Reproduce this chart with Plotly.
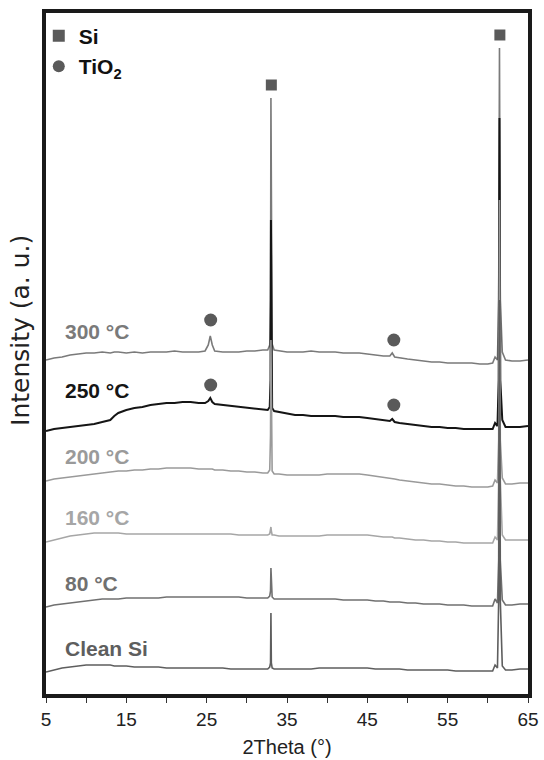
import plotly.graph_objects as go

# 2Theta grid (degrees)
two_theta = [5, 6, 7, 8, 9, 10, 11, 12, 13, 13.5, 14, 15, 16, 17, 18, 19, 20, 21, 22, 23,
             24, 24.8, 25.2, 25.45, 25.7, 26, 27, 28, 29, 30, 31, 32, 32.6, 32.85, 32.95, 33.0,
             33.05, 33.15, 33.4, 34, 35, 36, 37, 38, 39, 40, 41, 42, 43, 44, 45, 46, 47, 47.8,
             48.1, 48.4, 49, 50, 51, 52, 53, 54, 55, 56, 57, 58, 59, 60, 60.6, 60.9, 61.2,
             61.35, 61.45, 61.55, 61.8, 62.2, 63, 64, 65]

# Intensities (a. u., stacked as in the figure)
i_300 = [335, 337, 338, 340, 341, 342, 342, 343, 342, 343, 343, 342, 343, 342, 343, 343, 343, 344, 343, 343,
         343, 344, 350, 359, 350, 344, 343, 343, 343, 344, 344, 345, 345, 350, 395, 597,
         395, 351, 345, 344, 343, 343, 343, 344, 343, 343, 343, 342, 342, 342, 341, 340, 339, 339,
         342, 338, 337, 336, 335, 334, 333, 333, 332, 332, 332, 332, 331, 331, 332, 338, 335,
         395, 647, 395, 343, 335, 334, 334, 335]
i_250 = [264, 266, 267, 268, 269, 270, 271, 273, 275, 279, 282, 285, 287, 288, 290, 291, 292, 292, 293, 293,
         292, 292, 294, 297, 293, 291, 290, 289, 288, 287, 286, 285, 285, 288, 315, 475,
         315, 287, 284, 283, 281, 280, 280, 279, 279, 279, 279, 278, 278, 278, 277, 276, 275, 274,
         276, 273, 272, 271, 270, 269, 268, 268, 267, 267, 266, 266, 266, 266, 266, 272, 269,
         315, 577, 315, 275, 268, 268, 268, 269]
i_200 = [214, 216, 217, 218, 219, 220, 221, 222, 223, 223, 224, 224, 225, 225, 226, 226, 227, 227, 227, 227,
         226, 226, 226, 226, 226, 225, 225, 224, 224, 223, 223, 222, 222, 225, 260, 355,
         260, 224, 221, 221, 220, 220, 220, 220, 220, 221, 221, 221, 221, 221, 220, 219, 218, 217,
         217, 216, 215, 214, 213, 212, 211, 211, 210, 209, 209, 208, 208, 208, 209, 215, 212,
         255, 495, 255, 217, 211, 211, 212, 212]
i_160 = [153, 155, 157, 159, 160, 161, 162, 162, 162, 162, 162, 161, 161, 161, 161, 161, 161, 161, 161, 161,
         161, 161, 161, 161, 161, 161, 161, 161, 160, 160, 160, 160, 160, 161, 164, 168,
         164, 160, 160, 159, 159, 159, 159, 159, 159, 160, 160, 160, 160, 160, 160, 159, 158, 158,
         158, 157, 157, 156, 155, 155, 154, 154, 153, 153, 152, 152, 152, 152, 152, 158, 155,
         215, 365, 215, 160, 155, 155, 155, 155]
i_80 = [88, 90, 91, 92, 93, 94, 95, 96, 96, 96, 96, 97, 97, 97, 97, 97, 98, 98, 98, 98,
        98, 98, 98, 98, 98, 98, 98, 98, 98, 97, 97, 97, 97, 99, 104, 127,
        104, 98, 96, 96, 96, 96, 96, 96, 96, 96, 96, 95, 95, 95, 95, 94, 94, 93,
        93, 93, 93, 92, 92, 91, 91, 91, 90, 90, 90, 89, 89, 89, 89, 96, 92,
        135, 395, 135, 95, 90, 90, 91, 91]
i_clean = [23, 25, 27, 28, 29, 30, 30, 30, 30, 29, 29, 29, 28, 28, 28, 28, 27, 27, 27, 27,
           27, 27, 27, 27, 27, 27, 27, 26, 26, 26, 26, 26, 26, 28, 32, 82,
           32, 27, 26, 26, 26, 26, 26, 26, 27, 27, 27, 27, 27, 27, 27, 26, 26, 26,
           26, 26, 26, 25, 25, 25, 25, 25, 25, 24, 24, 24, 24, 24, 24, 30, 27,
           95, 395, 95, 29, 25, 25, 26, 26]

series_names = ["300 °C", "250 °C", "200 °C", "160 °C", "80 °C", "Clean Si"]
series_values = [i_300, i_250, i_200, i_160, i_80, i_clean]
series_colors = ["#7a7a7a", "#151515", "#9a9a9a", "#a6a6a6", "#707070", "#5e5e5e"]
series_widths = [1.6, 2.0, 1.6, 1.6, 1.6, 1.6]
label_y = [364, 305, 239, 178, 112, 47]

# Peak markers
si_x = [33.05, 61.5]
si_y = [610, 660]
tio2_x = [25.5, 25.5, 48.3, 48.3]
tio2_y = [375, 310, 355, 290]

fig = go.Figure()
for name, vals, col, w in zip(series_names, series_values, series_colors, series_widths):
    fig.add_trace(go.Scatter(x=two_theta, y=vals, mode="lines", name=name,
                             line=dict(color=col, width=w), showlegend=False))

fig.add_trace(go.Scatter(x=si_x, y=si_y, mode="markers", name="<b>Si</b>",
                         marker=dict(symbol="square", size=11, color="#5a5a5a")))
fig.add_trace(go.Scatter(x=tio2_x, y=tio2_y, mode="markers", name="<b>TiO<sub>2</sub></b>",
                         marker=dict(symbol="circle", size=13, color="#5a5a5a")))

for name, col, ly in zip(series_names, series_colors, label_y):
    fig.add_annotation(x=7.1, y=ly, xref="x", yref="y", text="<b>%s</b>" % name,
                       showarrow=False, xanchor="left", yanchor="middle",
                       font=dict(family="Liberation Sans, Arial", size=21, color=col))

# y-axis title
fig.add_annotation(x=-0.054, y=0.5345, xref="paper", yref="paper", text="Intensity (a. u.)",
                   textangle=-90, showarrow=False, xanchor="center", yanchor="middle",
                   font=dict(family="DejaVu Sans", size=25, color="#222222"))

fig.update_layout(
    width=544, height=760,
    margin=dict(l=46, r=16, t=13, b=66),
    paper_bgcolor="white", plot_bgcolor="white",
    font=dict(family="Liberation Sans, Arial", color="#222222"),
    showlegend=True,
    legend=dict(x=-0.015, y=0.996, xanchor="left", yanchor="top",
                bgcolor="rgba(0,0,0,0)", font=dict(size=21, color="#111111"),
                itemsizing="constant", tracegroupgap=0),
    xaxis=dict(range=[5, 65], tick0=5, dtick=10,
               ticks="outside", ticklen=5, tickwidth=1.2, tickcolor="#333",
               minor=dict(dtick=5, ticks="outside", ticklen=5, tickwidth=1.2, tickcolor="#333"),
               showline=True, mirror=True, linewidth=4, linecolor="#1a1a1a",
               showgrid=False, zeroline=False, automargin=False,
               tickfont=dict(size=19, color="#222"),
               title=dict(text="2Theta (°)", font=dict(size=20, color="#222"), standoff=12)),
    yaxis=dict(range=[1, 682], showticklabels=False, ticks="",
               showline=True, mirror=True, linewidth=4, linecolor="#1a1a1a",
               showgrid=False, zeroline=False, automargin=False),
)

fig.write_html("out.html", config={"displayModeBar": False},
               post_script="document.body.style.margin='0px';")
